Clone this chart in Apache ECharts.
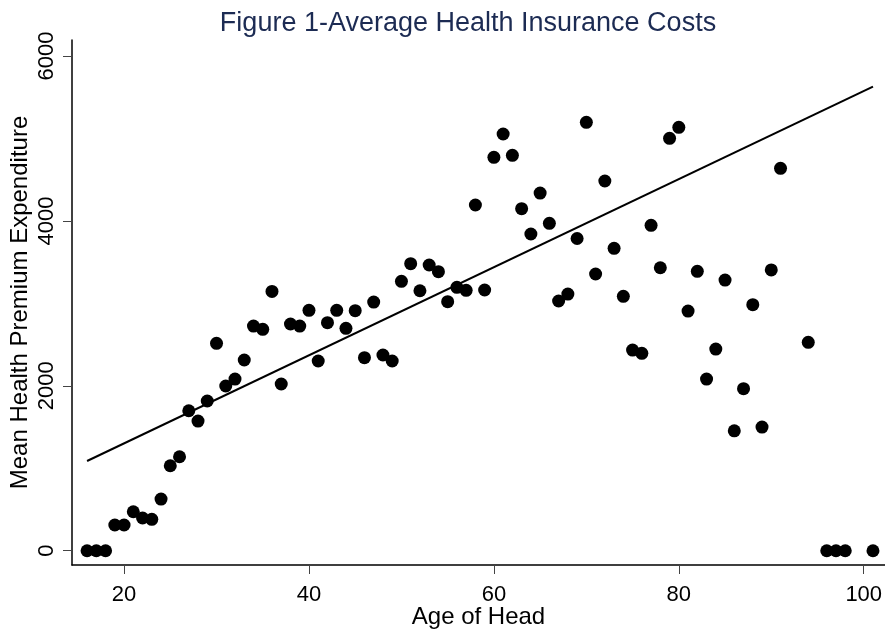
<!DOCTYPE html>
<html>
<head>
<meta charset="utf-8">
<script src="https://cdn.jsdelivr.net/npm/echarts@6/dist/echarts.min.js"></script>
<style>html,body{margin:0;padding:0;background:#fff}#c{width:885px;height:631px}</style>
</head>
<body>
<div id="c"></div>
<script>
const ages = [16,17,18,19,20,21,22,23,24,25,26,27,28,29,30,31,32,33,34,35,36,37,38,39,40,41,42,43,44,45,46,47,48,49,50,51,52,53,54,55,56,57,58,59,60,61,62,63,64,65,66,67,68,69,70,71,72,73,74,75,76,77,78,79,80,81,82,83,84,85,86,87,88,89,90,91,94,96,97,98,101];
const premiums = [0,0,0,312,312,473,397,381,627,1031,1140,1698,1573,1816,2515,1998,2082,2313,2725,2685,3145,2022,2750,2725,2916,2301,2766,2916,2697,2911,2341,3016,2374,2301,3267,3481,3153,3465,3384,3020,3195,3158,4193,3162,4771,5054,4795,4148,3841,4338,3971,3029,3113,3787,5196,3356,4484,3667,3085,2434,2394,3946,3432,5002,5135,2907,3389,2082,2446,3282,1454,1965,2984,1500,3405,4638,2528,0,0,0,0];
const fitAges = [16,101];
const fitValues = [1088,5628];
const xTicks = [20,40,60,80,100];
const yTicks = [0,2000,4000,6000];

const FONT = 'Liberation Sans, Arial, Helvetica, sans-serif';
const chart = echarts.init(document.getElementById('c'), null, {renderer:'canvas'});
chart.setOption({
  animation:false,
  backgroundColor:'#ffffff',
  title:{
    text:'Figure 1-Average Health Insurance Costs',
    left:463, top:5, textAlign:'center',
    textStyle:{color:'#1c2b53', fontFamily:FONT, fontSize:27, fontWeight:'normal'}
  },
  grid:{left:72, right:0, top:40, bottom:66, containLabel:false, outerBoundsMode:'none'},
  xAxis:{
    type:'value', min:14.37, max:102.3,
    name:'Age of Head', nameLocation:'middle', nameGap:40, nameMoveOverlap:false,
    nameTextStyle:{color:'#000', fontFamily:FONT, fontSize:24},
    axisLine:{show:true, onZero:false, lineStyle:{color:'#000', width:1.5}},
    axisTick:{show:true, length:9, customValues:xTicks, lineStyle:{color:'#444', width:1}},
    axisLabel:{customValues:xTicks, formatter:v=>String(v), color:'#000', fontFamily:FONT, fontSize:22, margin:19},
    splitLine:{show:false}
  },
  yAxis:{
    type:'value', min:-173, max:6194,
    name:'Mean Health Premium Expenditure', nameLocation:'middle', nameGap:40, nameRotate:90, nameMoveOverlap:false,
    nameTextStyle:{color:'#000', fontFamily:FONT, fontSize:24},
    axisLine:{show:true, onZero:false, lineStyle:{color:'#000', width:1.5}},
    axisTick:{show:true, length:9, customValues:yTicks, lineStyle:{color:'#444', width:1}},
    axisLabel:{customValues:yTicks, formatter:v=>String(v), rotate:90, color:'#000', fontFamily:FONT, fontSize:22, margin:14},
    splitLine:{show:false}
  },
  series:[
    {
      type:'scatter', symbol:'circle', symbolSize:13,
      itemStyle:{color:'#000', opacity:1},
      data: ages.map((a,i)=>[a, premiums[i]]),
      z:3
    },
    {
      type:'line', symbol:'none', lineStyle:{color:'#000', width:2},
      data: fitAges.map((a,i)=>[a, fitValues[i]]),
      z:2
    }
  ]
});
</script>
</body>
</html>
